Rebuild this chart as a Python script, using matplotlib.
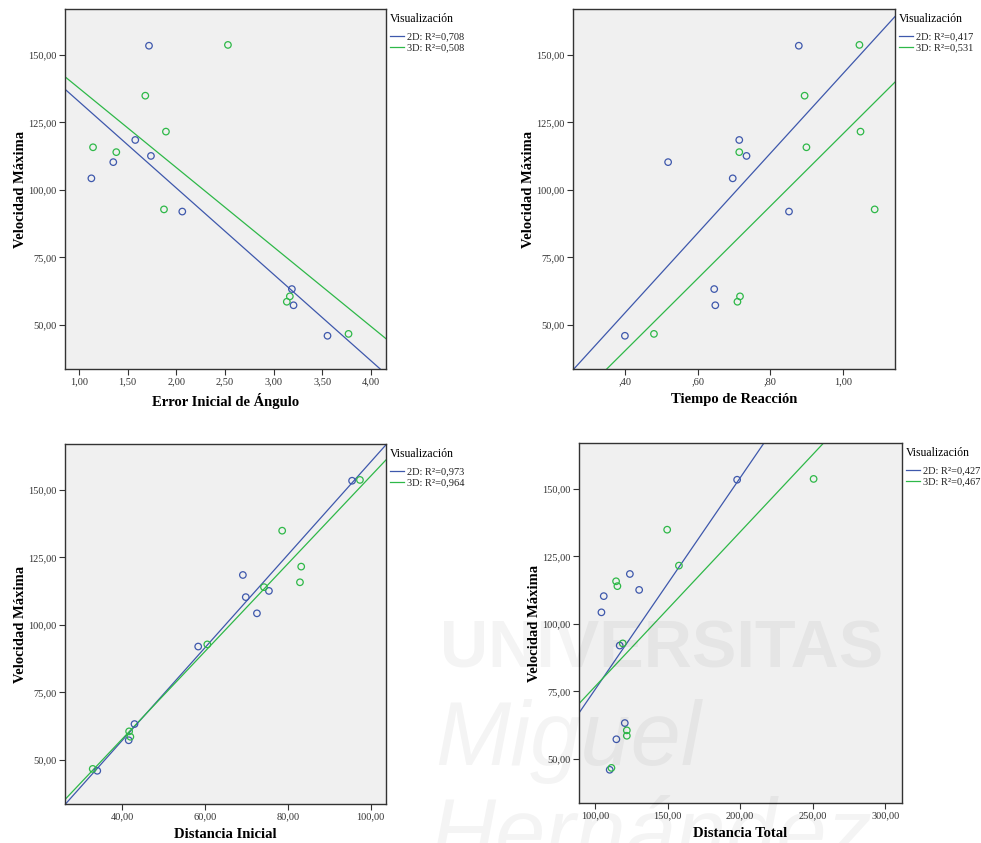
import numpy as np
import matplotlib
matplotlib.use("Agg")
import matplotlib.pyplot as plt
from matplotlib.ticker import FuncFormatter

# ---- data ----
vel_2d = [153.4, 118.5, 112.6, 110.3, 104.3, 92.0, 63.3, 57.3, 46.0]
vel_3d = [153.7, 134.9, 121.6, 115.8, 114.0, 92.8, 60.6, 58.6, 46.7]

err_2d = [1.719, 1.578, 1.739, 1.352, 1.127, 2.061, 3.187, 3.204, 3.553]
err_3d = [2.530, 1.681, 1.893, 1.144, 1.383, 1.873, 3.166, 3.135, 3.769]

treac_2d = [0.878, 0.714, 0.734, 0.518, 0.696, 0.851, 0.645, 0.648, 0.399]
treac_3d = [1.045, 0.894, 1.048, 0.899, 0.714, 1.087, 0.716, 0.709, 0.479]

dini_2d = [95.5, 69.1, 75.4, 69.8, 72.5, 58.3, 42.9, 41.5, 33.9]
dini_3d = [97.4, 78.6, 83.2, 82.9, 74.2, 60.5, 41.6, 41.9, 32.8]

dtot_2d = [197.9, 124.0, 130.4, 106.0, 104.4, 117.0, 120.5, 114.7, 110.1]
dtot_3d = [250.6, 149.7, 157.8, 114.5, 115.4, 119.1, 121.9, 121.9, 111.3]

r2_labels = [("0,708", "0,508"), ("0,417", "0,531"), ("0,973", "0,964"), ("0,427", "0,467")]
xlabels = ["Error Inicial de Ángulo", "Tiempo de Reacción", "Distancia Inicial", "Distancia Total"]
ylabel = "Velocidad Máxima"
legend_title = "Visualización"
watermark = ["UNIVERSITAS", "Miguel", "Hernández"]

xticks = [[1.0, 1.5, 2.0, 2.5, 3.0, 3.5, 4.0], [0.4, 0.6, 0.8, 1.0], [40, 60, 80, 100], [100, 150, 200, 250, 300]]
xlims = [(0.856, 4.154), (0.256, 1.143), (26.1, 103.7), (88.95, 311.5)]
yticks = [50, 75, 100, 125, 150]
ylim = (33.7, 167.0)

BLUE = "#3E58AC"
GREEN = "#2EB848"

plt.rcParams['font.family'] = ['Liberation Serif', 'DejaVu Serif']

fig = plt.figure(figsize=(9.81, 8.43), dpi=100)
W, H = 981.0, 843.0
boxes = [(65, 9, 386, 369), (573, 9, 895, 369), (65, 444, 386, 804), (579, 443, 902, 803)]

data = [(err_2d, err_3d), (treac_2d, treac_3d), (dini_2d, dini_3d), (dtot_2d, dtot_3d)]


def fmt_x(i):
    def f(v, pos):
        s = ("%.2f" % v).replace(".", ",")
        if i == 1 and s.startswith("0"):
            s = s[1:]
        return s
    return f


for i, (x0, y0, x1, y1) in enumerate(boxes):
    ax = fig.add_axes([x0 / W, 1 - y1 / H, (x1 - x0) / W, (y1 - y0) / H])
    ax.set_facecolor("#F0F0F0")
    xs2, xs3 = data[i]
    ax.set_xlim(*xlims[i])
    ax.set_ylim(*ylim)
    xx = np.array(xlims[i])
    p2 = np.polyfit(xs2, vel_2d, 1)
    p3 = np.polyfit(xs3, vel_3d, 1)
    l2, = ax.plot(xx, np.polyval(p2, xx), color=BLUE, lw=0.9)
    l3, = ax.plot(xx, np.polyval(p3, xx), color=GREEN, lw=0.9)
    ax.scatter(xs2, vel_2d, s=22, facecolors="none", edgecolors=BLUE, linewidths=0.9, zorder=3)
    ax.scatter(xs3, vel_3d, s=22, facecolors="none", edgecolors=GREEN, linewidths=0.9, zorder=3)
    ax.set_xticks(xticks[i])
    ax.set_yticks(yticks)
    ax.xaxis.set_major_formatter(FuncFormatter(fmt_x(i)))
    ax.yaxis.set_major_formatter(FuncFormatter(lambda v, p: ("%.2f" % v).replace(".", ",")))
    ax.tick_params(direction="out", length=4, width=0.8, labelsize=7.5, colors="#333333", pad=2)
    for sp in ax.spines.values():
        sp.set_color("#333333")
        sp.set_linewidth(1.0)
    ax.set_xlabel(xlabels[i], fontsize=10.5, fontweight="bold", labelpad=5)
    ax.set_ylabel(ylabel, fontsize=10.5, fontweight="bold", labelpad=1.0)
    leg = ax.legend([l2, l3], ["2D: R²=%s" % r2_labels[i][0], "3D: R²=%s" % r2_labels[i][1]],
                    title=legend_title, loc="upper left", bbox_to_anchor=(1.0, 1.0),
                    frameon=False, fontsize=7.5, title_fontsize=8.5, handlelength=1.3,
                    handletextpad=0.3, labelspacing=0.15, borderaxespad=0.3, borderpad=0.1)
    leg._legend_box.align = "left"
    leg._legend_box.sep = 5
    plt.setp(leg.get_texts(), color="#222222")

# faint background watermark of the source page
wm_kw = dict(color="black", alpha=0.045, zorder=10)
fig.text(440 / W, 1 - 667 / H, watermark[0], fontsize=48, fontweight="bold",
         family=["Liberation Sans", "DejaVu Sans"], ha="left", va="baseline", **wm_kw)
fig.text(435 / W, 1 - 765 / H, watermark[1], fontsize=65, style="italic",
         family=["Liberation Sans", "DejaVu Sans"], ha="left", va="baseline", **wm_kw)
fig.text(430 / W, 1 - 862 / H, watermark[2], fontsize=65, style="italic",
         family=["Liberation Sans", "DejaVu Sans"], ha="left", va="baseline", **wm_kw)

fig.savefig("out.png", dpi=100, facecolor="white")
